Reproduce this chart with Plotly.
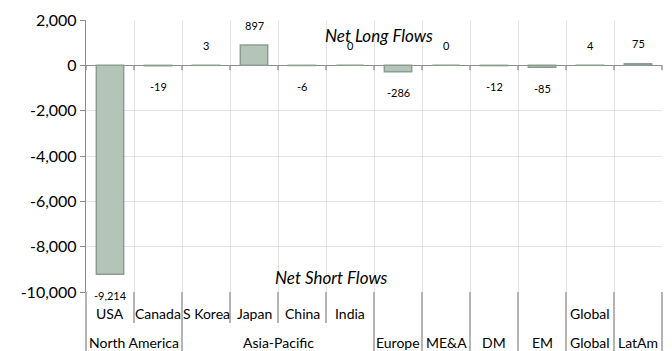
import plotly.graph_objects as go

# Regional net flows (level-1 category, level-2 group, value)
countries = ["USA", "Canada", "S Korea", "Japan", "China", "India",
             "", "", "", "", "Global", ""]
groups = ["North America", "North America", "Asia-Pacific", "Asia-Pacific",
          "Asia-Pacific", "Asia-Pacific", "Europe", "ME&A", "DM", "EM",
          "Global", "LatAm"]
flows = [-9214, -19, 3, 897, -6, 0, -286, 0, -12, -85, 4, 75]

y_ticks = [2000, 0, -2000, -4000, -6000, -8000, -10000]
y_range = [-10000, 2000]

FONT = "Lato, 'Open Sans', sans-serif"
AXIS_GREY = "#8c8c8c"
GRID_GREY = "#e4e4e4"

n = len(flows)
keys = [f"{g}|{c}|{i}" for i, (g, c) in enumerate(zip(groups, countries))]

fig = go.Figure(go.Bar(
    x=keys, y=flows, width=0.57,
    marker=dict(color="#b4c4b8", line=dict(color="#8a9e90", width=1.5)),
    hoverinfo="skip",
))

annotations = []
shapes = []

# value labels just beyond each bar end
for k, v in zip(keys, flows):
    annotations.append(dict(
        x=k, y=v, xref="x", yref="y", text=f"{v:,}", showarrow=False,
        xanchor="center", yanchor="middle", yshift=20 if v >= 0 else -21,
        font=dict(size=11, color="#000000", family=FONT)))

# level-1 (country) labels
for i, c in enumerate(countries):
    if c:
        annotations.append(dict(
            x=(i + 0.5) / n, y=0, xref="paper", yref="paper", text=c,
            showarrow=False, xanchor="center", yanchor="middle", yshift=-21,
            font=dict(size=14, color="#000000", family=FONT)))

# level-2 (group) labels, centred on their span
spans = []
for i, g in enumerate(groups):
    if spans and spans[-1][0] == g:
        spans[-1][2] = i + 1
    else:
        spans.append([g, i, i + 1])
for g, a, b in spans:
    annotations.append(dict(
        x=(a + b) / 2 / n, y=0, xref="paper", yref="paper", text=g,
        showarrow=False, xanchor="center", yanchor="middle", yshift=-50,
        font=dict(size=14, color="#000000", family=FONT)))

# separators below the plot: full height between groups, short within a group
for b in range(n + 1):
    inner = 0 < b < n and groups[b - 1] == groups[b]
    shapes.append(dict(
        type="line", xref="paper", yref="paper", ysizemode="pixel", yanchor=0,
        x0=b / n, x1=b / n, y0=0, y1=-31 if inner else -60,
        line=dict(color=AXIS_GREY, width=1.3)))
    # tick marks on the zero axis line
    shapes.append(dict(
        type="line", xref="paper", yref="y", ysizemode="pixel", yanchor=0,
        x0=b / n, x1=b / n, y0=0, y1=-5,
        line=dict(color=AXIS_GREY, width=1.3)))

annotations.append(dict(
    x=0.508, y=2000, xref="paper", yref="y", text="<i>Net Long Flows</i>",
    showarrow=False, xanchor="center", yanchor="middle", yshift=-15,
    font=dict(size=17, color="#000000", family=FONT)))
annotations.append(dict(
    x=0.427, y=-10000, xref="paper", yref="y", text="<i>Net Short Flows</i>",
    showarrow=False, xanchor="center", yanchor="middle", yshift=15,
    font=dict(size=17, color="#000000", family=FONT)))

fig.update_layout(
    width=672, height=351,
    margin=dict(l=86, r=10, t=18, b=59),
    paper_bgcolor="white", plot_bgcolor="white",
    showlegend=False,
    annotations=annotations, shapes=shapes,
    xaxis=dict(
        type="category", range=[-0.5, n - 0.5], tickson="boundaries",
        showticklabels=False, ticks="", showgrid=True, gridcolor=GRID_GREY,
        gridwidth=1, showline=False, zeroline=False, fixedrange=True),
    yaxis=dict(
        range=y_range, tickvals=y_ticks, ticktext=[f"{t:,}" for t in y_ticks],
        showgrid=True, gridcolor=GRID_GREY, gridwidth=1,
        zeroline=True, zerolinecolor=AXIS_GREY, zerolinewidth=1.3,
        showline=True, linecolor=AXIS_GREY, linewidth=1.3,
        ticks="outside", ticklen=5, tickcolor=AXIS_GREY, tickwidth=1.3,
        tickfont=dict(size=16, color="#000000", family=FONT),
        fixedrange=True),
)

fig.write_html("out.html")
